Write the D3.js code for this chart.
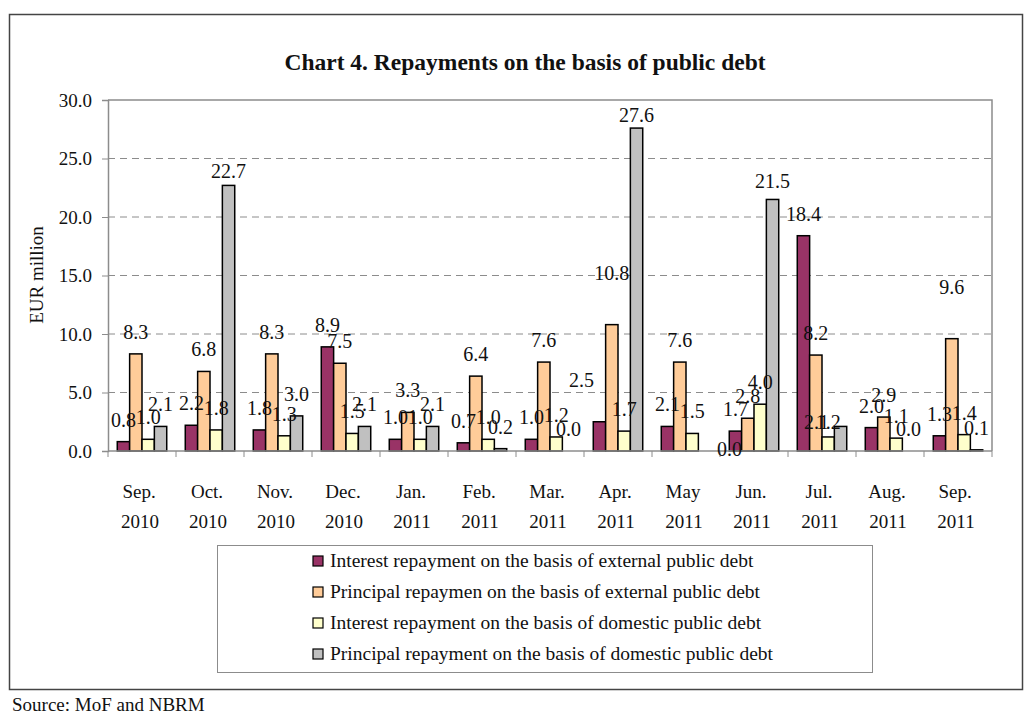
<!DOCTYPE html>
<html>
<head>
<meta charset="utf-8">
<script src="https://cdn.jsdelivr.net/npm/d3@7"></script>
<style>
  html, body { margin: 0; padding: 0; background: #fff; }
  svg text { font-family: "Liberation Serif", "DejaVu Serif", serif; fill: #111; }
</style>
</head>
<body>
<svg id="chart" width="1030" height="716"></svg>
<script>
// Monthly repayments of public debt, EUR million
const months = ["Sep.|2010", "Oct.|2010", "Nov.|2010", "Dec.|2010", "Jan.|2011", "Feb.|2011",
                "Mar.|2011", "Apr.|2011", "May|2011", "Jun.|2011", "Jul.|2011", "Aug.|2011", "Sep.|2011"];

const seriesNames = [
  "Interest repayment on the basis of external public debt",
  "Principal repaymen on the basis of external public debt",
  "Interest repayment on the basis of domestic public debt",
  "Principal repayment on the basis of domestic public debt"
];

const interestExternal  = [0.8, 2.2, 1.8, 8.9, 1.0, 0.7, 1.0, 2.5, 2.1, 1.7, 18.4, 2.0, 1.3];
const principalExternal = [8.3, 6.8, 8.3, 7.5, 3.3, 6.4, 7.6, 10.8, 7.6, 2.8, 8.2, 2.9, 9.6];
const interestDomestic  = [1.0, 1.8, 1.3, 1.5, 1.0, 1.0, 1.2, 1.7, 1.5, 4.0, 1.2, 1.1, 1.4];
const principalDomestic = [2.1, 22.7, 3.0, 2.1, 2.1, 0.2, 0.0, 27.6, 0.0, 21.5, 2.1, 0.0, 0.1];

const yTicks = [0, 5, 10, 15, 20, 25, 30];

const seriesValues = [interestExternal, principalExternal, interestDomestic, principalDomestic];
const colors = ["#993366", "#FFCC99", "#FFFFCC", "#C0C0C0"];

// hand-placed label offsets (month index, series index) -> [dx, dy]
const labelNudge = {
  "7|0": [-18, -20],
  "7|1": [0, -30],
  "12|1": [0, -30],
  "1|3": [0, 8],
  "7|3": [0, 9],
  "9|3": [0, 4],
  "8|3": [25, 20],
  "10|2": [0, 7],
  "10|3": [-24, 18]
};

const svg = d3.select("#chart");

// outer frame
svg.append("rect")
  .attr("x", 9.5).attr("y", 14.5).attr("width", 1013).attr("height", 675)
  .attr("fill", "none").attr("stroke", "#444").attr("stroke-width", 1.5);

const plot = { left: 108, right: 992, top: 100, bottom: 451 };

const x = d3.scaleBand().domain(d3.range(months.length))
  .range([plot.left, plot.right]).paddingInner(0).paddingOuter(0);
const inner = d3.scaleBand().domain(d3.range(4))
  .range([0, x.bandwidth()]).paddingOuter(0.75).paddingInner(0);
const y = d3.scaleLinear().domain([0, 30]).range([plot.bottom, plot.top]);

// title
svg.append("text")
  .attr("x", 525).attr("y", 70)
  .attr("text-anchor", "middle")
  .style("font-size", "23.5px").style("font-weight", "bold")
  .text("Chart 4. Repayments on the basis of public debt");

// gridlines
svg.append("g").selectAll("line")
  .data(yTicks.filter(t => t > 0 && t < 30))
  .join("line")
  .attr("x1", plot.left).attr("x2", plot.right)
  .attr("y1", d => y(d)).attr("y2", d => y(d))
  .attr("stroke", "#8c8c8c").attr("stroke-width", 1)
  .attr("stroke-dasharray", "7,5");

// plot area border (top and right)
svg.append("path")
  .attr("d", `M${plot.left},${y(30)}H${plot.right}V${plot.bottom}`)
  .attr("fill", "none").attr("stroke", "#8c8c8c").attr("stroke-width", 1.5);

// y axis
const yAxis = svg.append("g")
  .attr("transform", `translate(${plot.left},0)`)
  .call(d3.axisLeft(y).tickValues(yTicks).tickFormat(d3.format(".1f")).tickSize(6).tickPadding(10));
yAxis.select(".domain").attr("stroke", "#8c8c8c").attr("stroke-width", 1.5);
yAxis.selectAll(".tick line").attr("stroke", "#8c8c8c");
yAxis.selectAll("text").style("font-size", "19px").attr("font-family", null).attr("fill", "#111");

// axis title
svg.append("text")
  .attr("transform", "translate(43,275) rotate(-90)")
  .attr("text-anchor", "middle")
  .style("font-size", "19px")
  .text("EUR million");

// bars
const groups = svg.append("g").selectAll("g")
  .data(months.map((m, i) => i))
  .join("g")
  .attr("transform", i => `translate(${x(i)},0)`);

groups.selectAll("rect")
  .data(i => seriesValues.map((vals, s) => ({ i, s, v: vals[i] })))
  .join("rect")
  .attr("x", d => inner(d.s))
  .attr("width", inner.bandwidth())
  .attr("y", d => y(d.v))
  .attr("height", d => y(0) - y(d.v))
  .attr("fill", d => colors[d.s])
  .attr("stroke", "#000").attr("stroke-width", 1.5);

// x axis line and category separators
svg.append("line")
  .attr("x1", plot.left).attr("x2", plot.right)
  .attr("y1", y(0)).attr("y2", y(0))
  .attr("stroke", "#8c8c8c").attr("stroke-width", 1.5);
svg.append("g").selectAll("line")
  .data(d3.range(months.length + 1))
  .join("line")
  .attr("x1", i => plot.left + i * x.bandwidth())
  .attr("x2", i => plot.left + i * x.bandwidth())
  .attr("y1", y(0)).attr("y2", y(0) + 6)
  .attr("stroke", "#8c8c8c").attr("stroke-width", 1);

// category labels
const cat = svg.append("g").selectAll("text")
  .data(months)
  .join("text")
  .attr("x", (m, i) => x(i) + x.bandwidth() / 2 - 3)
  .attr("y", 498)
  .attr("text-anchor", "middle")
  .style("font-size", "19px");
cat.append("tspan").text(m => m.split("|")[0]);
cat.append("tspan")
  .attr("x", (m, i) => x(i) + x.bandwidth() / 2 - 2)
  .attr("dy", 30)
  .text(m => m.split("|")[1]);

// value labels
const labels = [];
seriesValues.forEach((vals, s) => vals.forEach((v, i) => labels.push({ i, s, v })));
svg.append("g").selectAll("text")
  .data(labels)
  .join("text")
  .attr("x", d => x(d.i) + inner(d.s) + inner.bandwidth() / 2 + (labelNudge[d.i + "|" + d.s] || [0, 0])[0])
  .attr("y", d => y(d.v) - 15 + (labelNudge[d.i + "|" + d.s] || [0, 0])[1])
  .attr("text-anchor", "middle")
  .style("font-size", "20px")
  .text(d => d3.format(".1f")(d.v));

// legend
const legend = svg.append("g");
legend.append("rect")
  .attr("x", 217.5).attr("y", 545.5).attr("width", 655).attr("height", 127)
  .attr("fill", "#fff").attr("stroke", "#8c8c8c").attr("stroke-width", 1);
const items = legend.selectAll("g")
  .data(seriesNames)
  .join("g")
  .attr("transform", (d, k) => `translate(313,${561 + k * 31})`);
items.append("rect")
  .attr("x", 0).attr("y", -5).attr("width", 10).attr("height", 10)
  .attr("fill", (d, k) => colors[k]).attr("stroke", "#000").attr("stroke-width", 1.2);
items.append("text")
  .attr("x", 17).attr("y", 6)
  .style("font-size", "19.5px")
  .text(d => d);

// source note
svg.append("text")
  .attr("x", 12).attr("y", 711)
  .style("font-size", "19px")
  .text("Source: MoF and NBRM");
</script>
</body>
</html>
